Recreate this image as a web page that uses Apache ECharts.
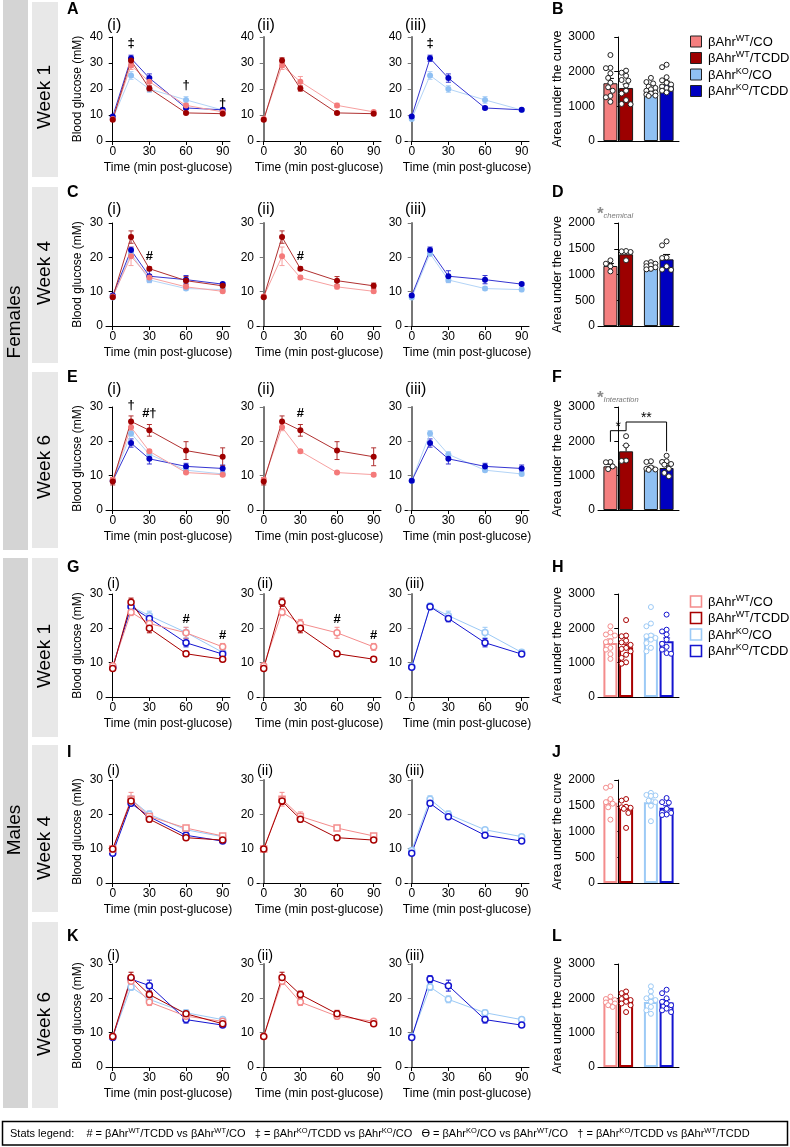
<!DOCTYPE html>
<html><head><meta charset="utf-8">
<script src="https://cdn.jsdelivr.net/npm/echarts@6/dist/echarts.min.js"></script>
<style>html,body{margin:0;padding:0;background:#fff}#c{width:790px;height:1147px}</style>
</head><body><div id="c"></div><script>
const FONT = '"Liberation Sans", Arial, Helvetica, sans-serif';
const TIMES = [0, 15, 30, 60, 90];
const X_TICKS = [0, 30, 60, 90];
const GROUP_KEYS = ['WT/CO', 'WT/TCDD', 'KO/CO', 'KO/TCDD'];
const LEGEND_SUPS = ['WT', 'WT', 'KO', 'KO'];
const LEGEND_TAILS = ['/CO', '/TCDD', '/CO', '/TCDD'];

// ---- glucose tolerance means / SEM (order: WT/CO, WT/TCDD, KO/CO, KO/TCDD)
const F1_MEAN = [[8.5,29.0,22.8,13.7,11.2],[8.2,31.0,20.2,10.8,10.5],[8.5,25.2,20.0,15.8,11.9],[9.4,31.8,24.2,12.7,12.0]];
const F1_SEM  = [[0.5,1.5,2.0,0.8,0.5],[0.5,1.0,1.0,0.4,0.4],[0.5,1.5,1.3,1.3,0.5],[0.4,1.2,1.6,0.5,0.4]];
const F4_MEAN = [[8.6,20.3,14.1,11.4,10.1],[8.4,25.9,16.7,13.2,11.7],[8.3,21.1,13.4,10.9,10.6],[8.9,22.1,14.5,13.5,12.2]];
const F4_SEM  = [[0.5,2.7,0.6,0.6,0.5],[0.4,1.8,0.5,1.2,0.8],[0.4,0.8,0.8,0.5,0.6],[0.3,0.9,1.6,1.2,0.4]];
const F6_MEAN = [[8.8,24.1,17.1,10.9,10.3],[8.3,25.8,23.2,17.3,15.5],[8.5,22.3,16.2,11.6,10.5],[8.5,19.5,14.9,12.7,12.1]];
const F6_SEM  = [[0.6,1.0,0.5,0.3,0.5],[1.0,1.6,1.7,2.6,2.6],[0.4,0.8,0.8,0.5,0.5],[0.4,1.2,1.5,0.9,1.0]];
const M1_MEAN = [[9.1,24.7,21.4,18.7,14.6],[8.3,27.6,20.0,12.6,11.0],[8.9,26.4,23.7,18.8,13.0],[8.7,26.3,22.9,15.8,12.5]];
const M1_SEM  = [[0.5,1.0,1.2,1.6,1.0],[0.4,1.2,1.3,0.7,0.7],[0.4,1.0,1.3,1.5,0.8],[0.4,0.8,1.0,1.2,0.5]];
const M4_MEAN = [[9.9,24.4,19.4,16.0,13.7],[9.9,23.9,18.6,13.2,12.5],[9.5,24.4,20.0,15.5,13.5],[8.7,23.2,19.3,13.9,12.2]];
const M4_SEM  = [[0.4,2.0,1.3,0.5,0.5],[0.4,1.0,0.8,0.6,0.4],[0.4,1.0,1.0,0.6,0.5],[0.4,0.6,0.6,0.6,0.4]];
const M6_MEAN = [[8.9,25.0,18.9,14.8,13.3],[8.9,26.1,21.1,15.5,12.6],[8.9,23.3,19.7,15.8,13.8],[8.6,25.6,23.7,13.8,12.2]];
const M6_SEM  = [[0.4,1.0,1.0,0.8,0.5],[0.4,1.5,1.0,1.0,0.5],[0.4,1.0,1.0,0.8,0.6],[0.4,1.0,1.6,1.0,0.5]];

// ---- significance symbols per panel [(i),(ii),(iii)]
const F1_ANN = [[[15,37.6,'‡'],[60,21.4,'†'],[90,14.5,'†']], [], [[15,37.6,'‡']]];
const F4_ANN = [[[30,20.3,'#']], [[30,20.3,'#']], []];
const F6_ANN = [[[15,30.5,'†'],[30,28.0,'#†']], [[30,28.0,'#']], []];
const M1_ANN = [[[60,22.6,'#'],[90,17.8,'#']], [[60,22.6,'#'],[90,17.8,'#']], []];
const M4_ANN = [[], [], []];
const M6_ANN = [[], [], []];

// ---- area under the curve: means, SEM, individual animals
const F1_AUC = [1665,1530,1470,1645];  const F1_AUC_SEM = [140,110,60,80];
const F1_DOTS = [[2480,2110,2100,1950,1820,1680,1550,1450,1300,1260,1130],[2030,1970,1880,1760,1740,1600,1450,1370,1180,1070,1060],[1820,1700,1660,1570,1530,1490,1450,1400,1370,1340,1310,1300],[2200,2130,1840,1750,1680,1630,1570,1530,1500,1450,1400]];
const F4_AUC = [1165,1392,1146,1294];  const F4_AUC_SEM = [50,40,30,95];
const F4_DOTS = [[1275,1210,1160,1060],[1456,1450,1437,1275],[1240,1220,1210,1180,1160,1140,1110,1100],[1644,1566,1330,1320,1160,1095,1090]];
const F6_AUC = [1272,1709,1223,1223];  const F6_AUC_SEM = [60,170,50,80];
const F6_DOTS = [[1400,1390,1270,1190],[2150,1880,1440,1430],[1420,1400,1240,1200,1180,1170],[1580,1420,1400,1340,1320,1200,1080,980]];
const M1_AUC = [1573,1446,1718,1621];  const M1_AUC_SEM = [120,90,110,100];
const M1_DOTS = [[2060,1880,1820,1790,1620,1600,1430,1380,1250,1110],[2240,1790,1770,1640,1590,1520,1430,1400,1330,1230,1140,1010,970],[2620,2140,2060,1790,1770,1720,1670,1570,1430,1330],[2400,1960,1910,1820,1670,1550,1460,1380,1280,1260]];
const M4_AUC = [1556,1460,1569,1460];  const M4_AUC_SEM = [60,40,60,40];
const M4_DOTS = [[1880,1850,1630,1570,1540,1470,1230],[1630,1600,1480,1470,1460,1440,1360,1070],[1750,1710,1700,1690,1600,1570,1500,1200],[1650,1570,1560,1440,1370,1360,1330,1320]];
const M6_AUC = [1880,1930,1890,1880];  const M6_AUC_SEM = [50,80,90,80];
const M6_DOTS = [[2050,1980,1950,1900,1880,1850,1800,1750],[2200,2150,2050,1980,1950,1900,1850,1800,1600],[2350,2200,2050,2000,1950,1900,1750,1650,1550],[2250,2150,2000,1900,1850,1800,1700,1650,1600]];

// significance brackets in F: points as [bar index, AUC value]
const F6_BRACKET = [[0,1985],[0,2310],[1,2310],[1,2563],[3,2563],[3,1707]];
const F6_BRACKET_LABELS = [[0,1,2310,'*'],[1,3,2563,'**']];

// ---- styling
const MARK = ['#f47a7a','#9e0000','#8fc0f3','#0000c2'];
const LINEC = ['#f7a0a0','#b03030','#b3d4f7','#3535d2'];
const BARF = ['#f47f7f','#9c0000','#8fc0f3','#0000c0'];
const MALEC = ['#f48c8c','#a80000','#9ccaf6','#1414d0'];

const ROWS = [
  {top:37,  h:104, yMax:40, mean:F1_MEAN, sem:F1_SEM, ann:F1_ANN, auc:F1_AUC, aucSem:F1_AUC_SEM, dots:F1_DOTS, aucMax:3000, aucInt:1000, male:false, L:['A','B'], ly:5,   ry:26},
  {top:223, h:103, yMax:30, mean:F4_MEAN, sem:F4_SEM, ann:F4_ANN, auc:F4_AUC, aucSem:F4_AUC_SEM, dots:F4_DOTS, aucMax:2000, aucInt:500,  male:false, L:['C','D'], ly:188, ry:210},
  {top:407, h:103, yMax:30, mean:F6_MEAN, sem:F6_SEM, ann:F6_ANN, auc:F6_AUC, aucSem:F6_AUC_SEM, dots:F6_DOTS, aucMax:3000, aucInt:1000, male:false, L:['E','F'], ly:373, ry:390},
  {top:594, h:103, yMax:30, mean:M1_MEAN, sem:M1_SEM, ann:M1_ANN, auc:M1_AUC, aucSem:M1_AUC_SEM, dots:M1_DOTS, aucMax:3000, aucInt:1000, male:true,  L:['G','H'], ly:563, ry:584},
  {top:780, h:103, yMax:30, mean:M4_MEAN, sem:M4_SEM, ann:M4_ANN, auc:M4_AUC, aucSem:M4_AUC_SEM, dots:M4_DOTS, aucMax:2000, aucInt:500,  male:true,  L:['I','J'], ly:748, ry:771},
  {top:964, h:103, yMax:30, mean:M6_MEAN, sem:M6_SEM, ann:M6_ANN, auc:M6_AUC, aucSem:M6_AUC_SEM, dots:M6_DOTS, aucMax:3000, aucInt:1000, male:true,  L:['K','L'], ly:932, ry:956}
];

const LINE_LEFT = [106, 257, 405], LINE_W = 124;
const BAR_LEFT = 598, BAR_W = 81, BAR_PX = 14, BAR_GAP = 0.12;
const PANEL_SETS = [[2,3,0,1],[0,1],[2,3]];
const BAR_OFF = (BAR_PX * (1 + BAR_GAP) / 2) / (BAR_W / 2);
const barPos = g => [0,0,1,1][g] + [-1,1,-1,1][g] * BAR_OFF;
const plainNum = v => String(v);

function errRender(color, upOnly, capHalf, lw) {
  return function (params, api) {
    const x = api.value(0), m = api.value(1), s = api.value(2);
    const a = api.coord([x, m + s]), b = api.coord([x, upOnly ? m : m - s]);
    const st = {stroke: color, lineWidth: lw};
    const ch = [
      {type:'line', shape:{x1:a[0], y1:a[1], x2:b[0], y2:b[1]}, style:st},
      {type:'line', shape:{x1:a[0]-capHalf, y1:a[1], x2:a[0]+capHalf, y2:a[1]}, style:st}
    ];
    if (!upOnly) ch.push({type:'line', shape:{x1:b[0]-capHalf, y1:b[1], x2:b[0]+capHalf, y2:b[1]}, style:st});
    return {type:'group', children:ch};
  };
}

function swarm(values, pxPerUnit, r, maxPx) {
  const order = values.map((v,i)=>i).sort((a,b)=>values[b]-values[a]);
  const placed = [], res = new Array(values.length);
  const cands = [0, -1, 1, -2, 2].map(k => k * maxPx / 2);
  for (const i of order) {
    const y = values[i] * pxPerUnit;
    let best = cands[0], bestD = -1;
    for (const c of cands) {
      let d = Infinity;
      for (const p of placed) d = Math.min(d, Math.hypot(p.x - c, p.y - y));
      if (d >= 2 * r) { best = c; bestD = d; break; }
      if (d > bestD) { bestD = d; best = c; }
    }
    placed.push({x:best, y}); res[i] = best;
  }
  return res;
}

const grids = [], xAxes = [], yAxes = [], series = [];
const baseText = {color:'#000', fontFamily:FONT};

ROWS.forEach((row) => {
  for (let p = 0; p < 3; p++) {
    const gi = grids.length;
    grids.push({left:LINE_LEFT[p], top:row.top, width:LINE_W, height:row.h, containLabel:false, outerBoundsMode:'none'});
    const xi = xAxes.length;
    xAxes.push({type:'value', gridIndex:gi, min:-5.5, max:96,
      axisLine:{show:true, onZero:false, lineStyle:{color:'#000', width:1}},
      axisTick:{show:true, customValues:X_TICKS, length:4, lineStyle:{color:'#000'}},
      axisLabel:{customValues:X_TICKS, fontSize:12, margin:5, formatter:plainNum, ...baseText},
      splitLine:{show:false},
      name:'Time (min post-glucose)', nameLocation:'middle', nameGap:21,
      nameTextStyle:{fontSize:12, ...baseText}});
    const yi = yAxes.length;
    yAxes.push({type:'value', gridIndex:gi, min:0, max:row.yMax, interval:10,
      axisLine:{show:true, lineStyle:{color: p===0 ? '#000' : '#777', width: p===0 ? 1 : 2}},
      axisTick:{show:true, length:4, lineStyle:{color: p===0 ? '#000' : '#777'}},
      axisLabel:{fontSize:12, margin:3, formatter:plainNum, ...baseText},
      splitLine:{show:false},
      name: p===0 ? 'Blood glucose (mM)' : '', nameLocation:'middle', nameGap:22,
      nameTextStyle:{fontSize:12, ...baseText}});
    PANEL_SETS[p].forEach(g => {
      series.push({type:'custom', xAxisIndex:xi, yAxisIndex:yi, silent:true, z:2,
        data: TIMES.map((t,i)=>[t, row.mean[g][i], row.sem[g][i]]),
        encode:{x:0, y:1}, renderItem: errRender(row.male ? MALEC[g] : LINEC[g], false, 2.5, 1)});
      const sym = (row === ROWS[4] && g === 0) ? 'rect' : 'circle';
      series.push({type:'line', name:GROUP_KEYS[g], xAxisIndex:xi, yAxisIndex:yi, z:3,
        data: TIMES.map((t,i)=>[t, row.mean[g][i]]),
        symbol:sym, symbolSize:6, showSymbol:true,
        lineStyle:{width:1, color: row.male ? MALEC[g] : LINEC[g]},
        itemStyle: row.male ? {color:'#fff', borderColor:MALEC[g], borderWidth:1.5}
                            : {color:MARK[g], borderColor:MARK[g], borderWidth:0}});
    });
    const ann = row.ann[p];
    if (ann.length) {
      series.push({type:'custom', xAxisIndex:xi, yAxisIndex:yi, silent:true, z:5, clip:false,
        data: ann.map(a=>[a[0], a[1]]), encode:{x:0, y:1},
        renderItem: (params, api) => {
          const c = api.coord([api.value(0), api.value(1)]);
          return {type:'text', x:c[0], y:c[1], style:{text: ann[params.dataIndex][2], fontSize:13, fontWeight:'bold', fontFamily:FONT, fill:'#000', align:'center', verticalAlign:'middle', textAlign:'center', textVerticalAlign:'middle'}};
        }});
    }
  }
  // ---- AUC bar panel
  const gi = grids.length;
  grids.push({left:BAR_LEFT, top:row.top, width:BAR_W, height:row.h, containLabel:false, outerBoundsMode:'none'});
  const xc = xAxes.length;
  xAxes.push({type:'category', gridIndex:gi, data:['WT','KO'],
    axisLine:{show:true, lineStyle:{color:'#000', width:1}}, axisTick:{show:false}, axisLabel:{show:false}});
  const xv = xAxes.length;
  xAxes.push({type:'value', gridIndex:gi, min:-0.5, max:1.5, show:false});
  const yi = yAxes.length;
  yAxes.push({type:'value', gridIndex:gi, min:0, max:row.aucMax, interval:row.aucInt,
    axisLine:{show:true, lineStyle:{color:'#000', width:1}},
    axisTick:{show:true, length:4, lineStyle:{color:'#000'}},
    axisLabel:{fontSize:12, margin:3, formatter:plainNum, ...baseText}, splitLine:{show:false},
    name:'Area under the curve', nameLocation:'middle', nameGap:33,
    nameTextStyle:{fontSize:12.5, ...baseText}});
  const barItem = g => row.male
    ? {value:row.auc[g], itemStyle:{color:'#fff', borderColor:MALEC[g], borderWidth:2}}
    : {value:row.auc[g], itemStyle:{color:BARF[g], borderColor:'#1a1a1a', borderWidth:1}};
  series.push({type:'bar', xAxisIndex:xc, yAxisIndex:yi, barWidth:BAR_PX, z:2, data:[barItem(0), barItem(2)]});
  series.push({type:'bar', xAxisIndex:xc, yAxisIndex:yi, barWidth:BAR_PX, barGap:(BAR_GAP*100)+'%', z:2, data:[barItem(1), barItem(3)]});
  for (let g = 0; g < 4; g++) {
    const col = row.male ? MALEC[g] : '#000';
    series.push({type:'custom', xAxisIndex:xv, yAxisIndex:yi, silent:true, z:3,
      data:[[barPos(g), row.auc[g], row.aucSem[g]]], encode:{x:0, y:1},
      renderItem: errRender(col, true, 3.5, 1)});
    const jit = swarm(row.dots[g], row.h / row.aucMax, 2.4, 4.5);
    series.push({type:'scatter', xAxisIndex:xv, yAxisIndex:yi, z:4, symbolSize:5,
      data: row.dots[g].map((v,i)=>[barPos(g) + jit[i] / (BAR_W / 2), v]),
      itemStyle:{color:'#fff', borderColor: row.male ? MALEC[g] : '#222', borderWidth:1, opacity:1}});
  }
  if (row === ROWS[2]) {
    series.push({type:'custom', xAxisIndex:xv, yAxisIndex:yi, silent:true, z:6, clip:false,
      data:[[0, 0]], encode:{x:0, y:1},
      renderItem: (params, api) => {
        const pts = F6_BRACKET.map(q => api.coord([barPos(q[0]), q[1]]));
        const ch = [{type:'polyline', shape:{points:pts}, style:{stroke:'#000', lineWidth:1, fill:null}}];
        F6_BRACKET_LABELS.forEach(l => {
          const a = api.coord([barPos(l[0]), l[2]]), b = api.coord([barPos(l[1]), l[2]]);
          ch.push({type:'text', x:(a[0]+b[0])/2, y:a[1]+3, style:{text:l[3], fontSize:14, fontFamily:FONT, fill:'#000', align:'center', verticalAlign:'bottom', textAlign:'center', textVerticalAlign:'bottom'}});
        });
        return {type:'group', children:ch};
      }});
  }
});

// ---- graphic decorations
const G = [];
const txt = (x, y, text, o) => Object.assign({type:'text', x, y, silent:true,
  style:Object.assign({text, fontFamily:FONT, fill:'#000', fontSize:12}, o.style || {})}, o.el || {});
G.push({type:'rect', shape:{x:3, y:0, width:25, height:550}, style:{fill:'#d4d4d4'}, silent:true});
G.push({type:'rect', shape:{x:3, y:558, width:25, height:550}, style:{fill:'#d4d4d4'}, silent:true});
const WEEK_BANDS = [[2,177],[187,363],[372,548],[558,737],[745,912],[922,1108]];
const WEEK_LABELS = ['Week 1','Week 4','Week 6','Week 1','Week 4','Week 6'];
const WEEK_CY = [97, 273, 467, 656, 848, 1024];
WEEK_BANDS.forEach((b,i) => {
  G.push({type:'rect', shape:{x:32, y:b[0], width:26, height:b[1]-b[0]}, style:{fill:'#e8e8e8'}, silent:true});
  G.push(txt(45, WEEK_CY[i], WEEK_LABELS[i], {el:{rotation:Math.PI/2}, style:{fontSize:19, align:'center', verticalAlign:'middle', textAlign:'center', textVerticalAlign:'middle'}}));
});
G.push(txt(15, 322, 'Females', {el:{rotation:Math.PI/2}, style:{fontSize:19, align:'center', verticalAlign:'middle', textAlign:'center', textVerticalAlign:'middle'}}));
G.push(txt(15, 830, 'Males', {el:{rotation:Math.PI/2}, style:{fontSize:19, align:'center', verticalAlign:'middle', textAlign:'center', textVerticalAlign:'middle'}}));
const ROMAN = ['(i)','(ii)','(iii)'];
ROWS.forEach(row => {
  G.push(txt(67, row.ly - 3, row.L[0], {style:{fontSize:16, fontWeight:'bold', verticalAlign:'top', textVerticalAlign:'top'}}));
  G.push(txt(552, row.ly - 3, row.L[1], {style:{fontSize:16, fontWeight:'bold', verticalAlign:'top', textVerticalAlign:'top'}}));
  ROMAN.forEach((r,p) => G.push(txt(LINE_LEFT[p] + (p===0 ? 1 : 0), row.ry, r, {style:{fontSize: row.male ? 14.5 : 16, verticalAlign:'middle', textVerticalAlign:'middle'}})));
});
// chemical / interaction notes
const noteRich = {s:{fontSize:17, fontWeight:'bold', fill:'#8a8a8a', fontFamily:FONT, lineHeight:14, verticalAlign:'top'}, t:{fontSize:7.5, fontStyle:'italic', fill:'#777', fontFamily:FONT, lineHeight:10, verticalAlign:'bottom'}};
G.push(txt(597, 213, '{s|*}{t|chemical}', {style:{rich:noteRich, verticalAlign:'middle', textVerticalAlign:'middle'}}));
G.push(txt(597, 397, '{s|*}{t|Interaction}', {style:{rich:noteRich, verticalAlign:'middle', textVerticalAlign:'middle'}}));
// legends
const legRich = {n:{fontSize:13, fontFamily:FONT, fill:'#000', lineHeight:16}, sup:{fontSize:9, fontFamily:FONT, fill:'#000', lineHeight:10, verticalAlign:'top'}};
[[42, false], [602, true]].forEach(([y0, male]) => {
  for (let g = 0; g < 4; g++) {
    const cy = y0 + g * 16.5;
    G.push({type:'rect', silent:true, shape:{x:690.5, y:cy-6, width:11, height:11},
      style: male ? {fill:'#fff', stroke:MALEC[g], lineWidth:1.6} : {fill:BARF[g], stroke:'#222', lineWidth:1}});
    G.push(txt(708, cy, '{n|βAhr}{sup|' + LEGEND_SUPS[g] + '}{n|' + LEGEND_TAILS[g] + '}', {style:{rich:legRich, verticalAlign:'middle', textVerticalAlign:'middle'}}));
  }
});
// stats legend
G.push({type:'rect', silent:true, shape:{x:2.5, y:1121.5, width:785, height:23.5}, style:{fill:null, stroke:'#000', lineWidth:1.5}});
const stRich = {n:{fontSize:11, fontFamily:FONT, fill:'#000', lineHeight:14}, sup:{fontSize:7.5, fontFamily:FONT, fill:'#000', lineHeight:9, verticalAlign:'top'}};
const STATS = '{n|Stats legend:    # = βAhr}{sup|WT}{n|/TCDD vs βAhr}{sup|WT}{n|/CO   ‡ = βAhr}{sup|KO}{n|/TCDD vs βAhr}{sup|KO}{n|/CO   ϴ = βAhr}{sup|KO}{n|/CO vs βAhr}{sup|WT}{n|/CO   † = βAhr}{sup|KO}{n|/TCDD vs βAhr}{sup|WT}{n|/TCDD}';
G.push(txt(10, 1133.5, STATS, {style:{rich:stRich, verticalAlign:'middle', textVerticalAlign:'middle'}}));

const chart = echarts.init(document.getElementById('c'), null, {renderer:'canvas', width:790, height:1147});
chart.setOption({animation:false, backgroundColor:'#fff', grid:grids, xAxis:xAxes, yAxis:yAxes, series:series, graphic:{elements:G}});
</script></body></html>
